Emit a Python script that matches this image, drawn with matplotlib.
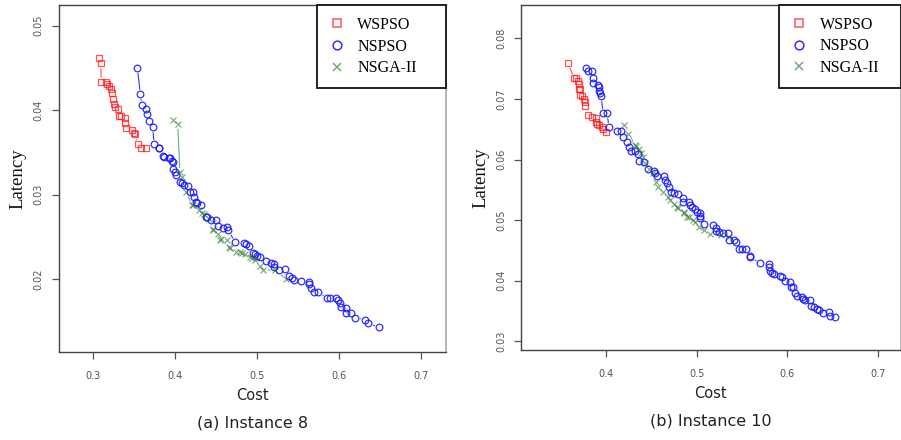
import matplotlib
matplotlib.use("Agg")
import matplotlib.pyplot as plt
from matplotlib.lines import Line2D

# ---------------- data: Instance 8 ----------------
wspso8_cost = [0.307, 0.3094, 0.3101, 0.3155, 0.3175, 0.3195, 0.3223, 0.3232, 0.3248, 0.326, 0.3268,
               0.3305, 0.3317, 0.3345, 0.339, 0.3386, 0.3402, 0.3479, 0.3496, 0.3512, 0.3545, 0.3585, 0.365]
wspso8_lat = [0.0462, 0.04563, 0.04338, 0.04338, 0.0431, 0.04288, 0.04256, 0.04208, 0.04137, 0.0407, 0.04043,
              0.04019, 0.03933, 0.03933, 0.03905, 0.03846, 0.0379, 0.03767, 0.03735, 0.03716, 0.03605, 0.03554, 0.03554]

nspso8_cost = [0.354, 0.3577, 0.3594, 0.3643, 0.3659, 0.3683, 0.3728, 0.3744, 0.3801, 0.3805, 0.385, 0.3866,
               0.3923, 0.3939, 0.3963, 0.3972, 0.3979, 0.3996, 0.4008, 0.4065, 0.4082, 0.4106, 0.4159, 0.418,
               0.4216, 0.4232, 0.4253, 0.4265, 0.4321, 0.4374, 0.4387, 0.4443, 0.4496, 0.452, 0.4589, 0.4638,
               0.4646, 0.4732, 0.4845, 0.4866, 0.4899, 0.4948, 0.4979, 0.5003, 0.5037, 0.5106, 0.5171, 0.5204,
               0.5211, 0.5272, 0.5338, 0.5386, 0.5423, 0.5455, 0.554, 0.563, 0.5638, 0.5659, 0.5695, 0.574,
               0.5857, 0.5894, 0.5967, 0.5984, 0.6012, 0.6024, 0.6085, 0.6085, 0.6143, 0.6199, 0.6321, 0.635, 0.6484]
nspso8_lat = [0.04504, 0.04193, 0.04059, 0.04012, 0.03956, 0.03877, 0.03806, 0.03598, 0.03554, 0.0355, 0.03459, 0.03451,
              0.03439, 0.03432, 0.03396, 0.03385, 0.03302, 0.03266, 0.03234, 0.03155, 0.03143, 0.03116, 0.03108, 0.03037,
              0.0303, 0.02978, 0.02915, 0.029, 0.02883, 0.02741, 0.02737, 0.02702, 0.02698, 0.02634, 0.02611, 0.02615,
              0.02583, 0.02445, 0.02433, 0.02418, 0.02394, 0.02315, 0.023, 0.02272, 0.02267, 0.0222, 0.02189, 0.02178,
              0.02149, 0.0211, 0.02118, 0.02043, 0.02019, 0.01992, 0.01983, 0.01972, 0.01944, 0.019, 0.01853, 0.01846,
              0.01782, 0.01775, 0.01775, 0.01755, 0.01716, 0.01676, 0.0166, 0.01601, 0.01601, 0.01546, 0.01522, 0.01479, 0.01435]

nsga8_cost = [0.3972, 0.4033, 0.406, 0.4088, 0.413, 0.4211, 0.4223, 0.4296, 0.4333, 0.4354, 0.4418, 0.4459,
              0.4467, 0.4528, 0.4549, 0.4565, 0.463, 0.4662, 0.4671, 0.4744, 0.4787, 0.4813, 0.4854, 0.4915,
              0.494, 0.4979, 0.5037, 0.5076, 0.5223, 0.535]
nsga8_lat = [0.03885, 0.03834, 0.03273, 0.03214, 0.03037, 0.02879, 0.02879, 0.0282, 0.0278, 0.02769, 0.0271, 0.02592,
             0.02583, 0.02533, 0.02465, 0.0248, 0.02465, 0.02379, 0.02367, 0.02327, 0.02327, 0.02308, 0.023, 0.02267,
             0.02248, 0.02228, 0.02161, 0.0211, 0.0211, 0.02004]

# ---------------- data: Instance 10 ----------------
wspso10_cost = [0.3573, 0.3646, 0.3664, 0.3683, 0.3694, 0.3698, 0.3709, 0.3709, 0.3731, 0.3753, 0.3764,
                0.3767, 0.3797, 0.3838, 0.3883, 0.3883, 0.39, 0.3919, 0.3949, 0.3963, 0.3993]
wspso10_lat = [0.07589, 0.07342, 0.07342, 0.07297, 0.07243, 0.0717, 0.0716, 0.07066, 0.0705, 0.06995, 0.06955,
               0.0689, 0.06736, 0.06698, 0.06682, 0.06626, 0.06587, 0.06571, 0.06543, 0.065, 0.06451]

nspso10_cost = [0.3772, 0.3794, 0.3842, 0.3856, 0.3849, 0.3905, 0.3919, 0.3919, 0.393, 0.3941, 0.3963, 0.4004,
                0.403, 0.4115, 0.4166, 0.4182, 0.4226, 0.4248, 0.4273, 0.4321, 0.4348, 0.4362, 0.4421, 0.4462,
                0.4525, 0.4539, 0.4565, 0.4642, 0.465, 0.4675, 0.4694, 0.4717, 0.475, 0.4794, 0.4842, 0.4842,
                0.4908, 0.4927, 0.4946, 0.4975, 0.5001, 0.503, 0.5038, 0.5038, 0.5074, 0.5178, 0.5212, 0.5212,
                0.5245, 0.5292, 0.534, 0.5351, 0.5406, 0.5433, 0.5462, 0.5503, 0.554, 0.5584, 0.5584, 0.5702,
                0.5794, 0.5802, 0.5813, 0.5835, 0.5857, 0.5916, 0.5942, 0.5976, 0.6034, 0.6042, 0.6068, 0.6082,
                0.6109, 0.616, 0.6175, 0.6197, 0.6256, 0.6267, 0.6292, 0.633, 0.6352, 0.6396, 0.6463, 0.6477, 0.6525]
nspso10_lat = [0.07507, 0.07462, 0.07462, 0.07351, 0.07259, 0.07226, 0.07193, 0.07138, 0.07094, 0.0705, 0.06774, 0.06764,
               0.06543, 0.06472, 0.06472, 0.06368, 0.06296, 0.06213, 0.06147, 0.06147, 0.06092, 0.05982, 0.05955, 0.0584,
               0.05817, 0.05784, 0.05729, 0.05729, 0.05663, 0.05609, 0.05543, 0.0547, 0.05444, 0.05427, 0.05361, 0.05295,
               0.053, 0.05251, 0.05223, 0.0518, 0.0514, 0.05114, 0.05074, 0.05031, 0.04937, 0.0492, 0.04876, 0.04827,
               0.048, 0.04784, 0.04784, 0.04673, 0.04673, 0.04645, 0.04525, 0.04525, 0.04525, 0.04414, 0.04389, 0.04289,
               0.04277, 0.04222, 0.04162, 0.04134, 0.04112, 0.04079, 0.04068, 0.03997, 0.03985, 0.03903, 0.03893, 0.03804,
               0.03749, 0.03738, 0.037, 0.03683, 0.03683, 0.03584, 0.03573, 0.03535, 0.03518, 0.03464, 0.0348, 0.03419, 0.03408]

nsga10_cost = [0.4199, 0.4244, 0.4318, 0.4326, 0.4362, 0.4384, 0.4403, 0.4429, 0.4476, 0.4514, 0.4547, 0.4576,
               0.4631, 0.4676, 0.4705, 0.4742, 0.478, 0.4797, 0.4853, 0.4853, 0.489, 0.4908, 0.4957, 0.4982,
               0.5019, 0.5074, 0.5141, 0.5267, 0.5351]
nsga10_lat = [0.06571, 0.06422, 0.06241, 0.06224, 0.0617, 0.06114, 0.06038, 0.05939, 0.0584, 0.05774, 0.05635, 0.05553,
              0.0547, 0.05388, 0.05333, 0.05267, 0.05223, 0.05196, 0.05140, 0.05114, 0.05058, 0.05047, 0.05003, 0.04975,
              0.04893, 0.04838, 0.04772, 0.04756, 0.04728]

labels = ["WSPSO", "NSPSO", "NSGA-II"]
captions = ["(a) Instance 8", "(b) Instance 10"]

# ---------------- styling ----------------
RED, BLUE, GREEN = "#ff1a1a", "#1a1aff", "#1a6e1a"
styles = [
    dict(marker="s", color=RED, ms=4.8, mew=0.9, alpha=0.75),
    dict(marker="o", color=BLUE, ms=4.8, mew=0.9, alpha=0.9),
    dict(marker="x", color=GREEN, ms=4.3, mew=0.8, alpha=0.6),
]
TICK_COLOR = "#555555"

fig = plt.figure(figsize=(9.01, 4.40), dpi=100)

panels = [
    dict(rect=[59 / 901, 1 - 352 / 440, (446 - 59) / 901, (352 - 5) / 440],
         xlim=(0.2585, 0.7305), ylim=(0.0114, 0.05245),
         xticks=[0.3, 0.4, 0.5, 0.6, 0.7], yticks=[0.02, 0.03, 0.04, 0.05],
         leg_x0=(316.7 - 59) / 387.0,
         series=[(wspso8_cost, wspso8_lat), (nspso8_cost, nspso8_lat), (nsga8_cost, nsga8_lat)]),
    dict(rect=[521.3 / 901, 1 - 350 / 440, (900.5 - 521.3) / 901, (350 - 4.7) / 440],
         xlim=(0.3059, 0.7252), ylim=(0.02857, 0.08555),
         xticks=[0.4, 0.5, 0.6, 0.7], yticks=[0.03, 0.04, 0.05, 0.06, 0.07, 0.08],
         leg_x0=(779 - 521.3) / 379.2,
         series=[(wspso10_cost, wspso10_lat), (nspso10_cost, nspso10_lat), (nsga10_cost, nsga10_lat)]),
]

for p, cap in zip(panels, captions):
    ax = fig.add_axes(p["rect"])
    ax.set_xlim(*p["xlim"])
    ax.set_ylim(*p["ylim"])
    # connecting lines (type "b")
    for (xs, ys), st in zip(p["series"], styles):
        ax.plot(xs, ys, "-", color=st["color"], lw=0.8, alpha=st["alpha"], zorder=1)
    # white masks to create gaps around points
    for (xs, ys), st in zip(p["series"], styles):
        ax.plot(xs, ys, ls="none", marker="o", ms=st["ms"] + 2.2, mfc="white", mec="none", zorder=2)
    # hollow markers
    for (xs, ys), st in zip(p["series"], styles):
        ax.plot(xs, ys, ls="none", marker=st["marker"], ms=st["ms"], mfc="none",
                mec=st["color"], mew=st["mew"], alpha=st["alpha"], zorder=3)

    ax.set_xticks(p["xticks"])
    ax.set_xticklabels([f"{v:g}" for v in p["xticks"]])
    ax.set_yticks(p["yticks"])
    ax.set_yticklabels([f"{v:g}" for v in p["yticks"]], rotation=90, va="center")
    ax.tick_params(axis="x", direction="out", length=5, width=0.9, color="#555555",
                   labelsize=7, labelcolor=TICK_COLOR, pad=9)
    ax.tick_params(axis="y", direction="out", length=5, width=0.9, color="#555555",
                   labelsize=7, labelcolor=TICK_COLOR, pad=6)
    for sp in ("left", "bottom", "top"):
        ax.spines[sp].set_color("#444444")
        ax.spines[sp].set_linewidth(1.0)
    ax.spines["right"].set_color("#aaaaaa")
    ax.spines["right"].set_linewidth(1.2)

    ax.set_xlabel("Cost", fontsize=10.5, family="DejaVu Sans", color="#222222", labelpad=5)
    ax.set_ylabel("Latency", fontsize=13.5, family="Liberation Serif", color="#111111", labelpad=5)

    handles = [Line2D([], [], ls="none", marker=st["marker"], ms=st["ms"] + 1.5, mfc="none",
                      mec=st["color"], mew=1.1, alpha=st["alpha"]) for st in styles]
    x0 = p["leg_x0"]
    leg = ax.legend(handles, labels, loc="upper left",
                    bbox_to_anchor=(x0, 0.0, 1.0 - x0, 1.0), mode="expand",
                    borderaxespad=0.0, frameon=True, fancybox=False,
                    prop={"family": "Liberation Serif", "size": 11.5},
                    handlelength=1.0, handletextpad=0.8, labelspacing=0.35,
                    borderpad=0.75)
    leg.get_frame().set_edgecolor("#111111")
    leg.get_frame().set_linewidth(1.3)
    leg.get_frame().set_facecolor("white")
    leg.get_frame().set_alpha(1.0)

    # caption below the axes
    ax.text(0.5, -71.0 / 347.0, cap, transform=ax.transAxes, ha="center", va="center",
            fontsize=11.5, family="DejaVu Sans", color="#222222")

fig.savefig("out.png", dpi=100)
